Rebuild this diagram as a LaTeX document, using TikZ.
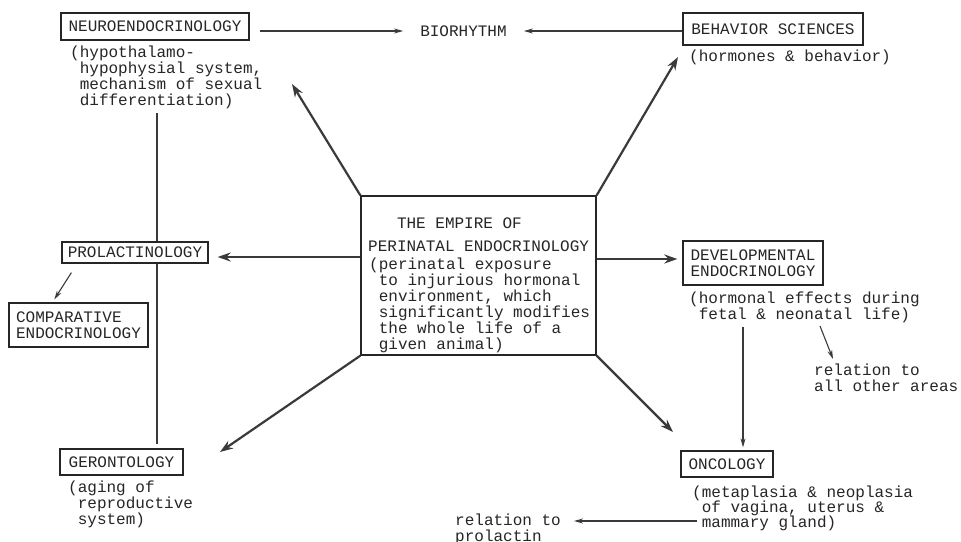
\documentclass[tikz,border=0pt]{standalone}
\usepackage{fontspec}
\newfontfamily\tw{Liberation Mono}
\usetikzlibrary{arrows.meta,calc}
\definecolor{ink}{HTML}{262626}
\definecolor{lin}{HTML}{3A3A3A}
\begin{document}
\begin{tikzpicture}[x=1pt,y=-1pt,
  every node/.style={font=\tw\fontsize{16}{16.3}\selectfont, text=ink, inner sep=0pt},
  box/.style={draw=ink, line width=1.3pt, align=left, inner sep=0pt},
  desc/.style={anchor=base west, align=left},
  bigarr/.style={draw=lin, line width=2.2pt, -{Stealth[length=13pt,width=9pt]}},
  arr/.style={draw=lin, line width=1.1pt, -{Stealth[length=9pt,width=5pt]}},
  ln/.style={draw=lin, line width=1.2pt}]
\useasboundingbox[fill=white] (0,0) rectangle (961,541);

% top row (desc nodes are placed by the baseline of their LAST line)
\node[box, minimum width=188pt, minimum height=27pt] (neuro) at (155,26.5) {NEUROENDOCRINOLOGY};
\node[desc] (neurod) at (70,105.9) {(hypothalamo-\\\phantom{(}hypophysial system,\\\phantom{(}mechanism of sexual\\\phantom{(}differentiation)};
\node[inner xsep=14pt] (bio) at (463.5,31) {BIORHYTHM};
\node[box, minimum width=180pt, minimum height=32pt] (beh) at (773,29) {BEHAVIOR SCIENCES};
\node[desc] (behd) at (689,61) {(hormones \& behavior)};

% centre
\node[box, minimum width=235pt, minimum height=159pt] (center) at (478.5,275.5) {};
\node[desc, font=\tw\fontsize{16}{23}\selectfont] (title) at (368,251.5) {\phantom{THE}THE EMPIRE OF\\PERINATAL ENDOCRINOLOGY};
\node[desc, font=\tw\fontsize{16}{16}\selectfont] (cbody) at (369,349) {(perinatal exposure\\\phantom{(}to injurious hormonal\\\phantom{(}environment, which\\\phantom{(}significantly modifies\\\phantom{(}the whole life of a\\\phantom{(}given animal)};

% left column
\node[box, minimum width=146pt, minimum height=21pt] (prolact) at (135,252.5) {PROLACTINOLOGY};
\node[box, minimum width=139pt, minimum height=44pt] (comp) at (78.5,325) {COMPARATIVE\\ENDOCRINOLOGY};
\node[box, minimum width=123pt, minimum height=26pt] (geront) at (121.5,462) {GERONTOLOGY};
\node[desc] (gerd) at (68,524.6) {(aging of\\\phantom{(}reproductive\\\phantom{(}system)};

% right column
\node[box, minimum width=140pt, minimum height=44pt] (dev) at (753,263) {DEVELOPMENTAL\\ENDOCRINOLOGY};
\node[desc] (devd) at (689,319.3) {(hormonal effects during\\\phantom{(}fetal \& neonatal life)};
\node[desc] (rel1) at (814,391.3) {relation to\\all other areas};
\node[box, minimum width=92pt, minimum height=26pt] (onco) at (727,464) {ONCOLOGY};
\node[desc, font=\tw\fontsize{16}{15}\selectfont] (oncod) at (692,527) {(metaplasia \& neoplasia\\\phantom{(}of vagina, uterus \&\\\phantom{(}mammary gland)};
\node[desc] (rel2) at (455,541.5) {relation to\\prolactin};

% connectors: top
\draw[arr, shorten <=10pt, shorten >=3pt] (neuro.east |- bio) -- (bio.west);
\draw[arr, shorten >=3pt] (beh.west |- bio) -- (bio.east);

% connectors from centre
\coordinate (tl) at (292,84);
\coordinate (tr) at (678,57);
\coordinate (bl) at (220,452);
\coordinate (br) at (673,432);
\coordinate (pl) at ($(prolact.east)+(9,4.5)$);
\coordinate (dl) at ($(dev.west)+(-5,-4)$);
\draw[bigarr] (center.north west) -- (tl);
\draw[bigarr] (center.north east) -- (tr);
\draw[bigarr] (center.west |- pl) -- (pl);
\draw[bigarr] (center.east |- dl) -- (dl);
\draw[bigarr] (center.south west) -- (bl);
\draw[bigarr] (center.south east) -- (br);

% left vertical line
\coordinate (vt) at (157,113);
\draw[ln] (vt) -- (vt |- prolact.north);
\draw[ln] (vt |- prolact.south) -- ([yshift=4pt]vt |- geront.north);
\draw[arr] ($(prolact.south west)+(10,9)$) -- ($(comp.north west)+(46,-3)$);

% right side
\coordinate (v2) at (743,327);
\draw[arr] (v2) -- ([yshift=3pt]v2 |- onco.north);
\draw[arr] ($(devd.base west)+(131,6.7)$) -- ($(rel1.base west)+(19,-32.3)$);
\coordinate (m1) at (697,521);
\draw[arr, shorten >=13pt] (m1) -- (m1 -| rel2.east);
\end{tikzpicture}
\end{document}
